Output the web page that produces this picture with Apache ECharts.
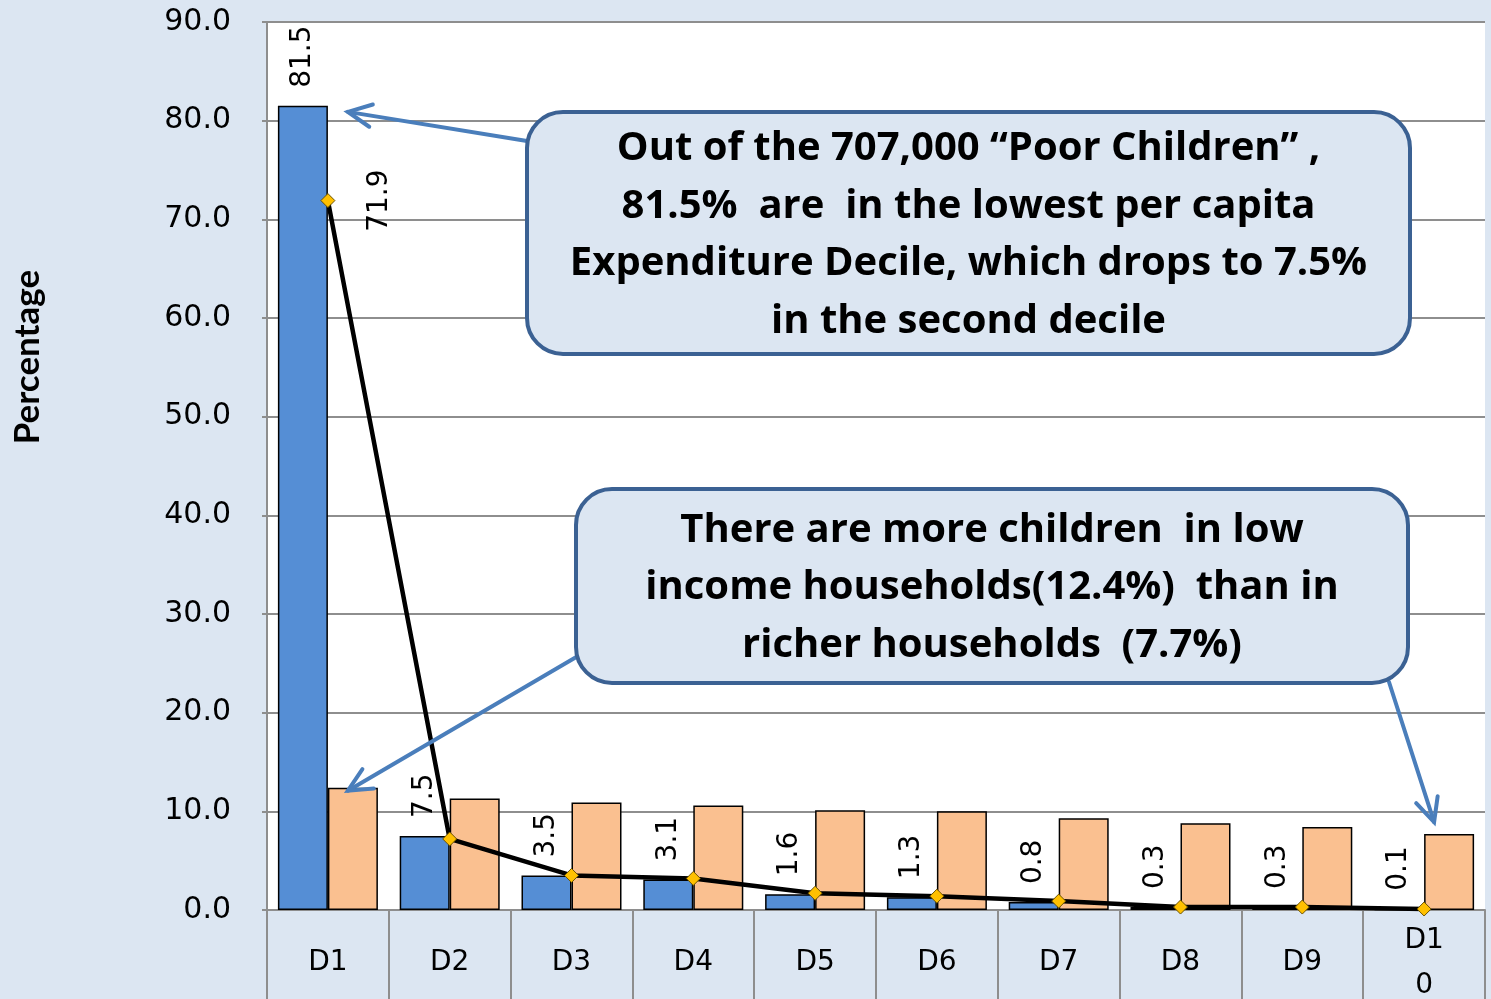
<!DOCTYPE html>
<html>
<head>
<meta charset="utf-8">
<script src="https://cdn.jsdelivr.net/npm/echarts@6/dist/echarts.min.js"></script>
<style>
  html, body { margin: 0; padding: 0; background: #dce6f2; }
  #chart { width: 1491px; height: 999px; }
</style>
</head>
<body>
<div id="chart"></div>
<script>
// Per capita expenditure deciles
const deciles = ['D1', 'D2', 'D3', 'D4', 'D5', 'D6', 'D7', 'D8', 'D9', 'D10'];
// Share of poor children in each decile (%)
const poorChildren = [81.5, 7.5, 3.5, 3.1, 1.6, 1.3, 0.8, 0.3, 0.3, 0.1];
// Share of all children in each decile (%)
const allChildren = [12.4, 11.3, 10.9, 10.6, 10.1, 10.0, 9.3, 8.8, 8.4, 7.7];
// Share of poor households in each decile (%)
const poorHouseholds = [71.9, 7.2, 3.5, 3.2, 1.7, 1.4, 0.9, 0.3, 0.3, 0.1];
// Value axis range
const yMin = 0, yMax = 90, yStep = 10;
const yTitle = 'Percentage';

const noteTop = [
  'Out of the 707,000 \u201cPoor Children\u201d ,',
  '81.5%  are  in the lowest per capita',
  'Expenditure Decile, which drops to 7.5%',
  'in the second decile'
];
const noteBottom = [
  'There are more children  in low',
  'income households(12.4%)  than in',
  'richer households  (7.7%)'
];

const BG = '#dce6f2';
const GRID_GREY = '#8e8e8e';
const NUM_FONT = 'DejaVu Sans';
const NOTE_FONT = 'Open Sans';
const NAME_FONT = 'Lato';

const chart = echarts.init(document.getElementById('chart'), null, { renderer: 'canvas' });

const lineData = poorHouseholds.map((v, i) => i === 0 ? {
  value: v,
  label: {
    show: true, position: 'right', distance: 44, rotate: 90,
    align: 'center', verticalAlign: 'middle',
    formatter: p => p.value.toFixed(1),
    fontFamily: NUM_FONT, fontSize: 28, color: '#000'
  }
} : v);

chart.setOption({
  backgroundColor: BG,
  animation: false,
  grid: {
    left: 267, right: 6, top: 22, bottom: 89,
    outerBoundsMode: 'none',
    containLabel: false,
    show: true, backgroundColor: '#ffffff', borderWidth: 0
  },
  xAxis: {
    type: 'category',
    data: deciles,
    axisLine: { show: true, lineStyle: { color: GRID_GREY, width: 2 } },
    axisTick: { show: true, length: 92, interval: 0, lineStyle: { color: GRID_GREY, width: 2 } },
    axisLabel: {
      interval: 0, margin: 53, color: '#000',
      fontFamily: NUM_FONT, fontSize: 28,
      width: 46, overflow: 'breakAll', lineHeight: 45,
      verticalAlign: 'middle'
    },
    splitLine: { show: false }
  },
  yAxis: {
    type: 'value',
    min: yMin, max: yMax, interval: yStep,
    axisLine: { show: true, lineStyle: { color: GRID_GREY, width: 2 } },
    axisTick: { show: true, length: 5, lineStyle: { color: GRID_GREY, width: 2 } },
    axisLabel: {
      margin: 36, color: '#000',
      fontFamily: NUM_FONT, fontSize: 30,
      formatter: v => v.toFixed(1)
    },
    splitLine: { show: true, lineStyle: { color: GRID_GREY, width: 2 } }
  },
  series: [
    {
      name: 'Poor children',
      type: 'bar',
      data: poorChildren,
      barWidth: 50,
      barGap: '0%',
      itemStyle: { color: '#558ed5', borderColor: '#000', borderWidth: 1.5 },
      label: {
        show: true, position: 'top', distance: 18, rotate: 90,
        align: 'left', verticalAlign: 'middle',
        formatter: p => p.value.toFixed(1),
        fontFamily: NUM_FONT, fontSize: 28, color: '#000'
      },
      z: 2
    },
    {
      name: 'All children',
      type: 'bar',
      data: allChildren,
      barWidth: 50,
      barGap: '0%',
      itemStyle: { color: '#fac090', borderColor: '#000', borderWidth: 1.5 },
      z: 2
    },
    {
      name: 'Poor households',
      type: 'line',
      data: lineData,
      lineStyle: { color: '#000', width: 4.5 },
      symbol: 'diamond',
      symbolSize: 14,
      itemStyle: { color: '#ffc000', borderColor: '#6b5200', borderWidth: 1 },
      z: 4
    }
  ]
});

// Call-out boxes and their pointer arrows, anchored to the bars they point at
function arrow(from, to, color) {
  const dx = to[0] - from[0], dy = to[1] - from[1];
  const len = Math.hypot(dx, dy);
  const ux = dx / len, uy = dy / len;
  const head = 26, ang = Math.PI / 7;
  const leg = s => {
    const c = Math.cos(s * ang), sn = Math.sin(s * ang);
    const rx = -ux * c + uy * sn, ry = -uy * c - ux * sn;
    return [to[0] + rx * head, to[1] + ry * head];
  };
  return [
    { type: 'line', z: 10, shape: { x1: from[0], y1: from[1], x2: to[0], y2: to[1] },
      style: { stroke: color, lineWidth: 4, lineCap: 'round' } },
    { type: 'polyline', z: 10, shape: { points: [leg(1), to, leg(-1)] },
      style: { stroke: color, lineWidth: 4, fill: null, lineCap: 'round', lineJoin: 'miter' } }
  ];
}

function note(x, y, w, h, lines) {
  return [
    { type: 'rect', z: 20, shape: { x: x, y: y, width: w, height: h, r: 36 },
      style: { fill: BG, stroke: '#3b6193', lineWidth: 4 } },
    { type: 'text', z: 21, x: x + w / 2, y: y + h / 2 + 2,
      style: {
        text: lines.join('\n'), align: 'center', verticalAlign: 'middle',
        fontFamily: NOTE_FONT, fontWeight: 'bold', fontSize: 40, lineHeight: 57.5,
        fill: '#000'
      } }
  ];
}

const toPx = (i, v) => chart.convertToPixel({ xAxisIndex: 0, yAxisIndex: 0 }, [i, v]);
const d1Poor = toPx(0, poorChildren[0]);
const d1All = toPx(0, allChildren[0]);
const d10All = toPx(9, allChildren[9]);
const ARROW = '#4a7ebb';

chart.setOption({
  graphic: [
    // value-axis title
    { type: 'text', x: 28, y: 357, rotation: Math.PI / 2,
      style: { text: yTitle, align: 'center', verticalAlign: 'middle',
        fontFamily: NAME_FONT, fontWeight: 'bold', fontSize: 35, fill: '#000' } },
    ...arrow([527, 141], [d1Poor[0] + 20, d1Poor[1] + 6], ARROW),
    ...arrow([578, 656], [d1All[0] + 20, d1All[1] + 3], ARROW),
    ...arrow([1389, 682], [d10All[0] + 10, d10All[1] - 12], ARROW),
    ...note(527, 112, 883, 242, noteTop),
    ...note(576, 489, 832, 194, noteBottom)
  ]
});
</script>
</body>
</html>
